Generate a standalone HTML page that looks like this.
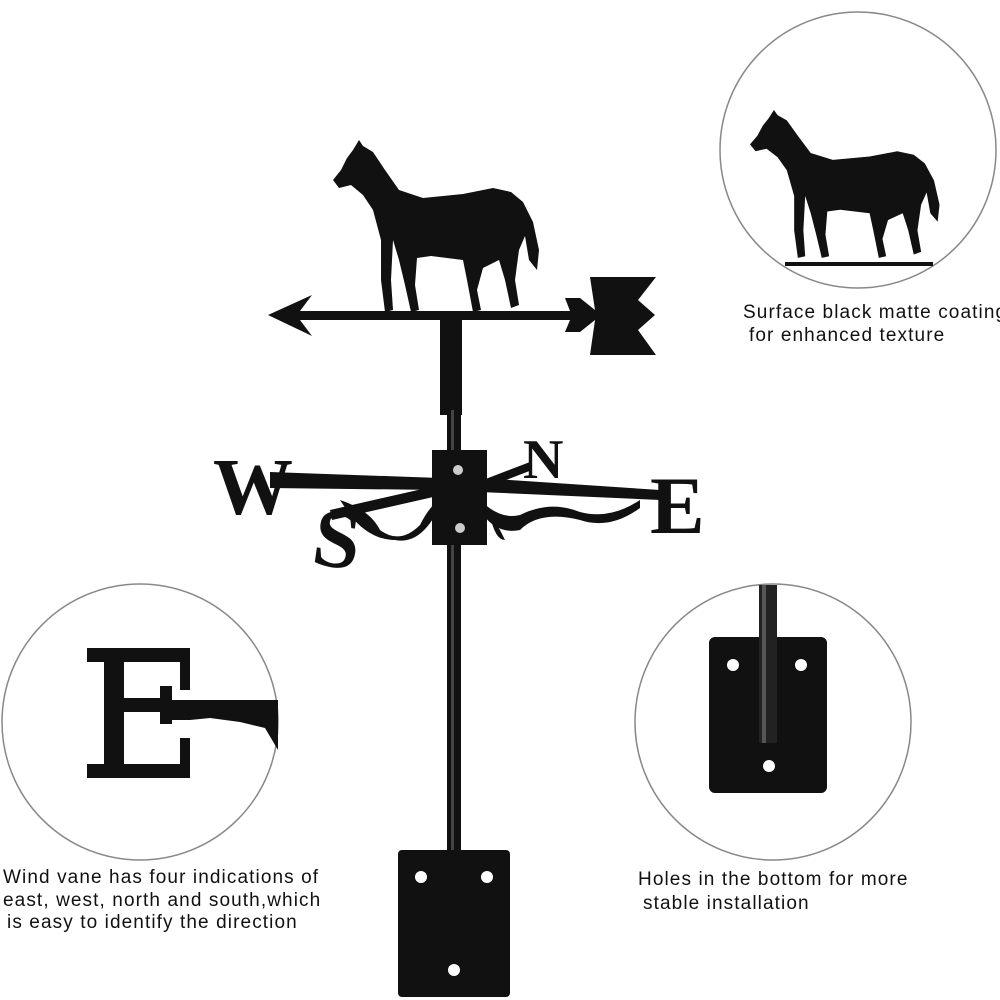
<!DOCTYPE html>
<html><head><meta charset="utf-8"><style>
html,body{margin:0;padding:0;background:#fff;}
body{width:1000px;height:1000px;position:relative;overflow:hidden;font-family:"Liberation Sans",sans-serif;}
.t{position:absolute;font-size:19px;color:#111;white-space:nowrap;letter-spacing:1.1px;}
</style></head><body>
<svg width="1000" height="1000" viewBox="0 0 1000 1000" style="position:absolute;left:0;top:0">
<defs>
<g id="horse">
<path d="M0,40 L8,30 L14,18 L20,10 L26,0 L30,6 L40,12 L52,30 L66,50 L90,58 L130,54 L160,48 L178,52 L190,62 L200,82 L206,110 L204,130 L196,120 L192,96 L186,110 L182,140 L186,165 L178,168 L172,140 L166,120 L150,128 L144,150 L148,170 L140,172 L134,140 L130,120 L98,116 L84,118 L82,145 L86,170 L78,172 L72,145 L66,120 L60,100 L58,140 L60,170 L52,172 L48,140 L48,100 L40,70 L30,55 L18,45 L6,48 Z" fill="#111"/>
</g>
</defs>
<circle cx="858" cy="150" r="138" fill="none" stroke="#888" stroke-width="1.5"/>
<circle cx="140" cy="722" r="138" fill="none" stroke="#888" stroke-width="1.5"/>
<circle cx="773" cy="722" r="138" fill="none" stroke="#888" stroke-width="1.5"/>
<use href="#horse" transform="translate(750,110) scale(0.92,0.86)"/>
<rect x="785" y="262" width="148" height="4" fill="#111"/>
<path d="M87,648 L190,648 L190,690 L180,690 L180,662 L124,662 L124,698 L160,698 L160,686 L172,686 L172,724 L160,724 L160,712 L124,712 L124,764 L180,764 L180,738 L190,738 L190,778 L87,778 L87,764 L104,764 L104,662 L87,662 Z" fill="#111"/>
<path d="M172,700 L278,700 L278,750 L265,728 L240,722 L210,718 L190,720 L172,720 Z" fill="#111"/>
<rect x="709" y="637" width="118" height="156" rx="6" fill="#111"/>
<rect x="759" y="585" width="18" height="158" fill="#222"/>
<rect x="762" y="585" width="4" height="158" fill="#555"/>
<circle cx="733" cy="665" r="6" fill="#fff"/><circle cx="801" cy="665" r="6" fill="#fff"/><circle cx="769" cy="766" r="6" fill="#fff"/>
<use href="#horse" transform="translate(333,140)"/>
<path d="M268,315 L312,295 L300,311 L570,311 L565,298 L580,298 L595,310 L590,277 L656,277 L638,300 L655,315 L638,330 L656,355 L590,355 L595,320 L580,332 L565,332 L570,320 L300,320 L312,336 Z" fill="#111"/>
<rect x="440" y="320" width="22" height="95" fill="#111"/>
<rect x="447" y="410" width="14" height="445" fill="#111"/>
<rect x="451" y="410" width="3" height="445" fill="#444"/>
<path d="M270,472 L440,478 L440,490 L270,488 Z" fill="#111"/>
<path d="M480,478 L660,490 L660,500 L480,492 Z" fill="#111"/>
<path d="M470,485 L530,462 L532,470 L472,493 Z" fill="#111"/>
<path d="M330,510 L440,485 L442,495 L332,520 Z" fill="#111"/>
<path d="M340,500 Q370,510 380,530 Q400,545 420,525 Q430,505 440,500 L438,510 Q420,545 395,540 Q370,540 350,515 Z" fill="#111"/>
<path d="M480,500 Q500,520 520,515 Q550,500 580,512 Q610,520 640,500 L640,508 Q610,530 580,520 Q540,510 520,530 Q495,535 480,510 Z" fill="#111"/>
<path d="M490,515 Q495,540 505,540 L500,530 Z" fill="#111"/>
<rect x="432" y="450" width="55" height="95" fill="#111"/>
<circle cx="458" cy="470" r="5" fill="#ccc"/><circle cx="460" cy="528" r="5" fill="#ccc"/>
<text x="213" y="514" font-family="Liberation Serif,serif" font-size="80" font-weight="bold" fill="#111">W</text>
<text x="650" y="533" font-family="Liberation Serif,serif" font-size="82" font-weight="bold" fill="#111">E</text>
<text x="523" y="478" font-family="Liberation Serif,serif" font-size="56" font-weight="bold" fill="#111">N</text>
<text x="315" y="566" font-family="Liberation Serif,serif" font-size="84" font-weight="bold" fill="#111" transform="rotate(8 330 530)">S</text>
<rect x="398" y="850" width="112" height="147" rx="4" fill="#111"/>
<circle cx="421" cy="877" r="6" fill="#fff"/><circle cx="487" cy="877" r="6" fill="#fff"/><circle cx="454" cy="970" r="6" fill="#fff"/>
</svg>
<div class="t" style="left:743px;top:302px">Surface black matte coating</div>
<div class="t" style="left:749px;top:325px">for enhanced texture</div>
<div class="t" style="left:3px;top:867px">Wind vane has four indications of</div>
<div class="t" style="left:3px;top:890px">east, west, north and south,which</div>
<div class="t" style="left:7px;top:912px">is easy to identify the direction</div>
<div class="t" style="left:638px;top:869px">Holes in the bottom for more</div>
<div class="t" style="left:643px;top:893px">stable installation</div>
</body></html>
